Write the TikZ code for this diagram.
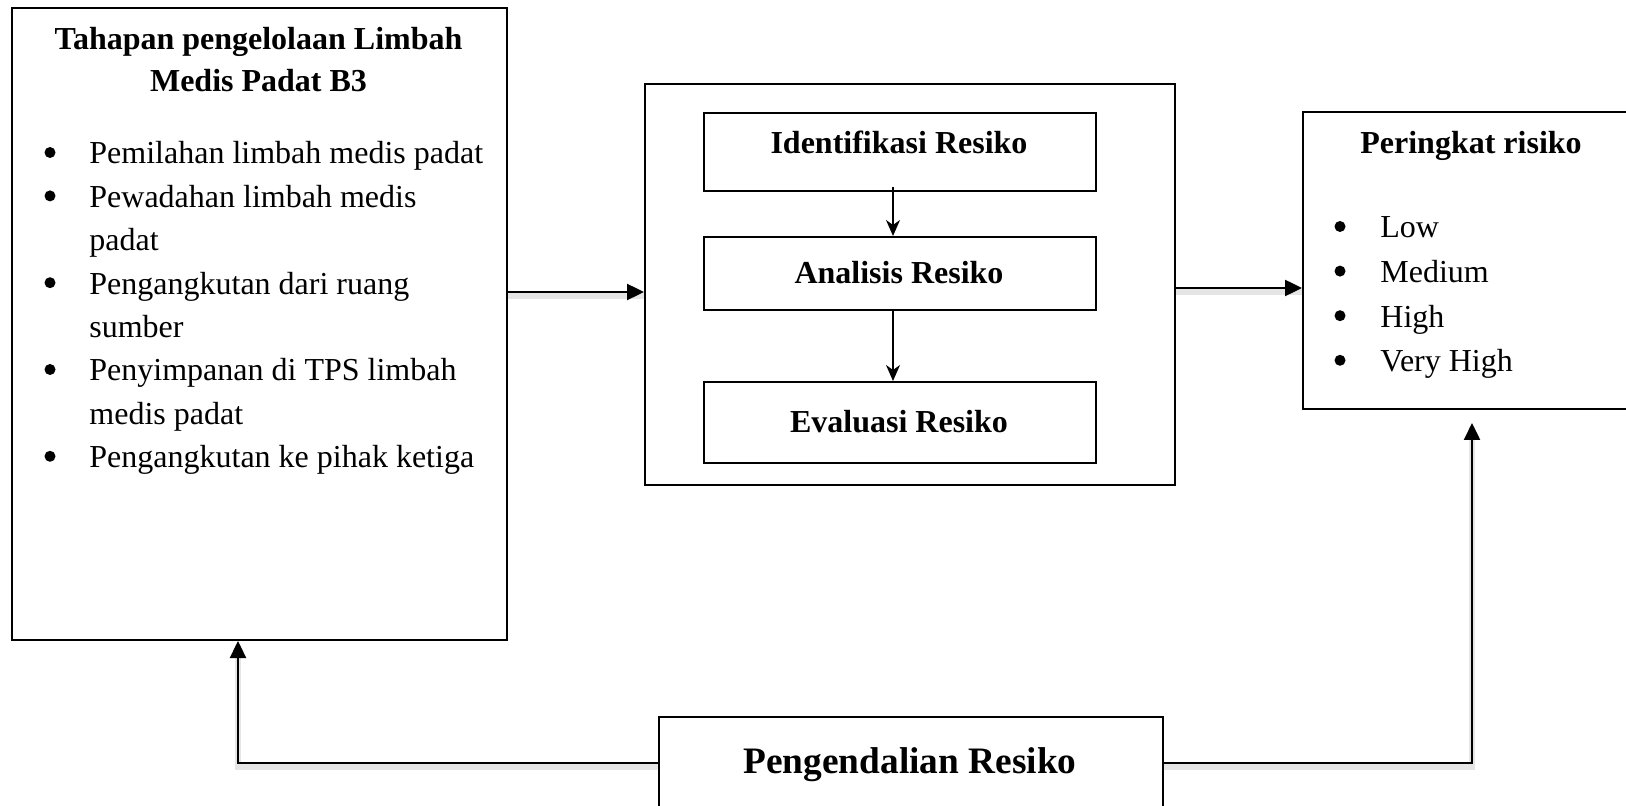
\documentclass[tikz,border=0pt]{standalone}
\usepackage{fontspec}
\setmainfont{Liberation Serif}
\usetikzlibrary{arrows.meta}
\begin{document}
\begin{tikzpicture}[x=0.5pt,y=-0.5pt,
  box/.style={draw,line width=1pt,inner sep=0pt,anchor=north west},
  conn/.style={line width=1.2pt,-{Triangle[length=8.5pt,width=8pt]}},
  thinarr/.style={line width=0.7pt,-{Stealth[length=8pt,width=7pt,inset=2.5pt]}},
  shadowline/.style={line width=3pt,black!10,transform canvas={yshift=-2.2pt}},
  txt/.style={font=\fontsize{16}{21.7}\selectfont,inner sep=0pt},
  btxt/.style={font=\fontsize{16}{21}\selectfont\bfseries,inner sep=0pt},
  bigtxt/.style={font=\fontsize{18.67}{22}\selectfont\bfseries,inner sep=0pt},
  bul/.style={circle,fill,inner sep=0pt,minimum size=5.5pt}
]
\useasboundingbox (0,0) rectangle (1626,806);
\clip (0,0) rectangle (1626,806);
\fill[white] (0,0) rectangle (1626,806);

% boxes
\node[box,minimum width=247.5pt,minimum height=316pt] (L) at (11,7) {};
\node[box,minimum width=265pt,minimum height=200.5pt] (M) at (644,83) {};
\node[box,minimum width=196pt,minimum height=39pt] (I) at (703,112) {};
\node[box,minimum width=196pt,minimum height=36.5pt] (A) at (703,236) {};
\node[box,minimum width=196pt,minimum height=40.5pt] (E) at (703,381) {};
\node[box,minimum width=169pt,minimum height=148.5pt] (R) at (1302,111) {};
\node[box,minimum width=252pt,minimum height=60pt] (B) at (658,716) {};

% left box text
\node[btxt,anchor=base] (t1) at (258.5,50) {Tahapan pengelolaan Limbah};
\node[btxt,anchor=base] (t2) at (258.5,92) {Medis Padat B3};
\foreach \k/\b/\t in {0/1/Pemilahan limbah medis padat,
                      1/1/Pewadahan limbah medis,
                      2/0/padat,
                      3/1/Pengangkutan dari ruang,
                      4/0/sumber,
                      5/1/Penyimpanan di TPS limbah,
                      6/0/medis padat,
                      7/1/Pengangkutan ke pihak ketiga}{
  \node[txt,anchor=base west] (ll\k) at (89,164+43.4*\k) {\t};
  \ifnum\b=1
    \node[bul] (lb\k) at (50,152.5+43.4*\k) {};
  \fi
}

% middle texts
\node[btxt,anchor=base] (ti) at (899,154) {Identifikasi Resiko};
\node[btxt,anchor=base] (ta) at (899,284) {Analisis Resiko};
\node[btxt,anchor=base] (te) at (899,433) {Evaluasi Resiko};

% right box text
\node[btxt,anchor=base] (tr) at (1471,154) {Peringkat risiko};
\foreach \k/\t in {0/Low,1/Medium,2/High,3/Very High}{
  \node[txt,anchor=base west] (rl\k) at (1380,238+44.6*\k) {\t};
  \node[bul] (rb\k) at (1340,226.5+44.6*\k) {};
}

% bottom text
\node[bigtxt,anchor=base] (tb) at (910,773) {Pengendalian Resiko};

% helper coordinates
\coordinate (y1) at (0,292);
\coordinate (y2) at (0,288);
\coordinate (by) at (0,763);
\coordinate (ax) at (893,0);
\coordinate (lx) at (238,0);

% shadows
\draw[shadowline] (L.east |- y1) -- (M.west |- y1);
\draw[shadowline] (M.east |- y2) -- (R.west |- y2);
\draw[shadowline] (B.west |- by) -| (L.south -| lx);
\draw[shadowline] (B.east |- by) -| ([yshift=-6.5pt]R.south);

% connectors
\draw[conn] (L.east |- y1) -- (M.west |- y1);
\draw[conn] (M.east |- y2) -- (R.west |- y2);
\draw[conn] (B.west |- by) -| (L.south -| lx);
\draw[conn] (B.east |- by) -| ([yshift=-6.5pt]R.south);
\draw[thinarr] ([yshift=2.5pt]I.south -| ax) -- (A.north -| ax);
\draw[thinarr] (A.south -| ax) -- (E.north -| ax);
\end{tikzpicture}
\end{document}
